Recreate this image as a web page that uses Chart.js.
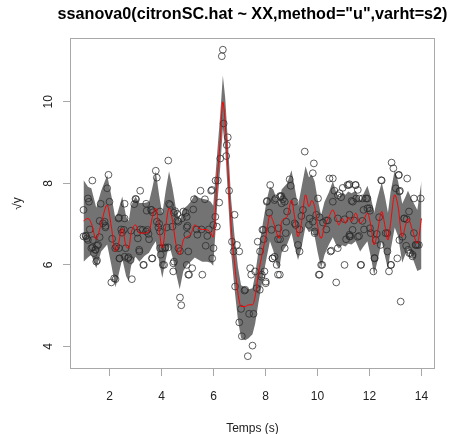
<!DOCTYPE html>
<html><head><meta charset="utf-8">
<script src="https://cdn.jsdelivr.net/npm/chart.js@4"></script>
<style>html,body{margin:0;padding:0;background:#fff;}canvas{display:block;}</style>
</head><body>
<canvas id="c" width="451" height="434"></canvas>
<script>
const titleText = 'ssanova0(citronSC.hat ~ XX,method="u",varht=s2)';
const xTitle = 'Temps (s)';
const yTitle = '√y';
const xTicks = [2, 4, 6, 8, 10, 12, 14];
const yTicks = [4, 6, 8, 10];

// fitted curve (red) and confidence band (grey)
const fitX = [1.00,1.17,1.30,1.49,1.68,1.91,2.07,2.23,2.32,2.49,2.64,2.74,2.83,3.00,3.15,3.34,3.52,3.65,3.78,3.91,4.03,4.16,4.29,4.42,4.55,4.70,4.84,4.99,5.12,5.28,5.44,5.57,5.76,5.89,5.99,6.13,6.26,6.36,6.45,6.55,6.68,6.81,6.94,7.06,7.22,7.35,7.50,7.60,7.73,7.88,8.05,8.17,8.30,8.43,8.53,8.62,8.83,9.00,9.12,9.25,9.38,9.54,9.67,9.78,9.89,10.01,10.14,10.27,10.44,10.59,10.72,10.82,10.95,11.08,11.18,11.31,11.47,11.64,11.77,11.92,12.05,12.18,12.30,12.47,12.60,12.71,12.81,12.97,13.10,13.26,13.39,13.48,13.65,13.84,14.00];
const fitY = [7.08,7.14,7.02,6.63,7.02,7.47,6.94,6.33,6.45,6.90,6.45,6.41,6.78,6.98,6.78,6.78,6.82,7.18,7.39,6.86,6.41,6.94,7.39,7.10,6.53,6.25,6.61,6.69,6.74,6.98,6.90,6.87,6.86,6.79,6.68,8.00,9.06,10.00,9.47,8.41,6.94,6.04,5.31,4.98,4.98,5.02,5.02,5.22,5.80,6.29,6.82,7.22,7.06,6.78,6.65,7.06,7.18,7.59,7.18,6.69,7.02,7.72,7.43,7.58,7.43,6.94,6.65,6.94,7.18,7.35,7.14,6.98,7.14,7.02,7.17,7.06,7.27,7.02,7.10,7.27,6.98,6.49,6.78,7.31,6.94,6.61,7.02,7.72,7.43,6.69,6.98,7.14,6.86,6.53,7.14];
const bandUpper = [8.08,7.92,7.88,7.40,7.82,8.20,7.70,7.12,7.30,7.68,7.18,7.08,7.45,7.68,7.52,7.52,7.55,7.90,8.30,7.70,7.25,7.82,8.30,7.90,7.40,7.05,7.38,7.45,7.55,7.72,7.65,7.62,7.60,7.55,7.45,8.65,9.70,10.65,10.10,9.05,7.60,6.70,5.95,5.50,5.45,5.40,5.43,5.75,6.35,6.95,7.60,7.92,7.85,7.62,7.50,7.85,8.00,8.32,7.92,7.45,7.88,8.42,8.15,8.22,8.05,7.60,7.22,7.55,7.78,8.05,7.78,7.62,7.78,7.72,7.80,7.76,7.82,7.58,7.74,7.94,7.66,7.28,7.62,8.02,7.66,7.28,7.78,8.32,8.05,7.50,7.68,7.82,7.58,7.35,8.06];
const bandLower = [6.08,6.18,6.25,5.92,6.33,6.50,6.00,5.45,5.68,6.15,5.72,5.60,5.98,6.20,6.08,6.22,6.30,6.45,6.58,6.08,5.68,6.12,6.50,6.20,5.82,5.40,5.85,6.00,6.08,6.18,6.12,6.08,6.08,6.05,5.98,7.35,8.40,9.35,8.85,7.75,6.30,5.40,4.65,4.20,4.15,4.20,4.30,4.55,5.08,5.62,6.20,6.58,6.35,6.00,5.90,6.30,6.50,6.78,6.45,6.12,6.40,6.95,6.80,6.85,6.70,6.30,5.92,6.25,6.50,6.68,6.48,6.40,6.48,6.45,6.52,6.50,6.58,6.33,6.45,6.58,6.20,5.75,6.08,6.58,6.20,5.90,6.35,6.92,6.70,6.05,6.28,6.42,6.18,5.85,5.90];

// observations (open circles)
const ptX = [1.34,1.96,1.17,1.21,1.00,1.91,2.00,1.66,3.18,3.00,2.58,3.41,2.36,1.62,1.81,1.85,1.24,1.08,1.00,1.17,1.56,1.30,1.47,1.49,1.40,2.10,2.26,2.39,2.36,2.62,2.71,2.81,3.15,3.09,3.28,3.41,3.32,2.23,2.07,2.86,2.55,1.62,
4.26,3.78,3.82,3.43,3.61,4.29,4.48,4.84,4.93,5.22,5.25,5.50,5.67,5.91,6.08,5.35,5.54,5.76,5.82,5.70,5.95,3.46,3.52,3.91,4.20,4.61,4.97,4.99,5.38,4.03,4.16,3.97,3.65,4.10,4.48,4.97,5.18,5.06,5.57,4.71,4.76,4.42,5.99,
6.36,6.32,6.39,6.55,6.51,6.49,6.26,6.17,5.94,6.22,6.60,6.81,6.07,6.13,6.71,6.90,6.77,6.99,6.00,6.83,7.22,7.41,7.60,7.45,7.66,7.86,7.96,7.79,7.70,7.92,8.05,8.18,8.14,8.39,8.56,8.62,8.50,8.56,8.27,8.43,8.01,7.19,7.06,7.37,7.54,6.99,7.09,7.50,7.32,
9.51,9.86,9.82,10.46,10.59,11.23,8.93,8.97,8.61,8.74,9.12,10.59,10.91,10.85,10.02,9.44,8.83,9.12,9.70,9.82,10.21,10.40,10.78,11.04,11.23,9.31,9.89,10.34,8.78,11.10,11.23,9.25,9.31,8.74,10.78,10.53,10.18,11.04,10.08,10.72,8.55,9.95,
12.85,12.92,13.13,13.45,12.47,11.15,11.47,13.01,13.17,11.60,11.73,11.92,11.31,13.71,13.97,11.92,12.02,13.52,11.77,13.33,13.43,11.41,11.73,12.37,11.35,11.79,12.02,12.05,11.26,11.60,12.28,12.62,12.69,13.71,13.77,13.90,13.84,12.43,12.24,12.69,13.49,13.58,13.07,12.20,12.82,11.66,12.15,12.75,13.20,13.65,
2.95,3.02,2.58,3.60,3.66,3.94,4.33,4.52,4.61,1.10,1.13,1.36,1.75,1.84,2.35,2.45,2.48,2.83,3.18,3.07,3.50,3.82,3.88,3.94,4.26,4.65,4.78,4.97,5.00,1.35,1.45,1.52,1.52,2.22,2.38,2.58,2.73,3.14,3.63,3.94,4.14,4.45,4.65,4.71,5.03,5.03,3.30,4.05,4.45,2.18,
8.06,8.35,8.57,8.67,10.97,11.20,11.46,11.55,10.78,10.65,11.49,11.87,12.00,11.36,12.45,13.12,13.15,7.93,7.88,8.23,8.48,8.80,9.16,9.38,9.67,9.89,10.08,10.34,8.35,8.27,8.48,8.01,7.84,7.78,10.05,10.14,10.50,11.23,11.55,11.68,12.19,12.83,13.15,13.41,13.53,13.66,13.79,13.27,13.34];
const ptY = [8.07,8.21,7.63,7.55,7.35,7.88,7.55,7.50,7.82,7.62,7.50,7.50,7.16,7.08,7.06,6.96,6.87,6.71,6.70,6.61,6.49,6.41,6.37,6.08,6.29,6.64,6.45,6.16,6.41,6.41,6.16,6.12,6.33,6.65,6.86,6.82,6.00,5.65,5.57,5.65,6.86,6.68,
8.56,8.31,8.14,7.33,7.35,7.50,7.28,7.31,7.28,7.36,7.61,7.82,7.61,7.82,8.07,6.87,6.87,6.71,6.87,6.47,6.16,6.86,6.63,7.01,6.92,7.09,6.92,6.74,6.74,6.41,6.43,6.25,6.16,6.00,6.08,6.00,5.92,5.76,5.76,5.20,5.01,6.94,6.98,
11.28,11.12,9.47,9.13,8.94,8.67,8.61,8.07,7.84,7.53,7.82,7.23,7.18,6.94,6.57,6.49,6.33,6.33,6.41,5.47,5.39,5.92,5.84,5.76,5.43,5.76,5.84,6.33,6.57,6.86,7.55,7.96,7.28,7.63,7.69,7.51,6.90,6.63,6.16,6.00,5.59,5.37,4.92,4.80,4.80,4.59,4.25,4.02,3.76,
8.78,8.49,8.25,8.12,8.12,7.98,8.10,7.94,7.69,7.55,7.55,7.55,7.66,7.76,7.63,7.35,7.31,7.02,7.14,7.06,7.04,7.09,7.14,7.12,7.23,6.87,6.82,6.87,6.78,6.63,6.70,6.49,6.33,6.41,6.41,6.35,6.00,6.00,5.76,5.57,5.76,7.23,
8.51,8.37,8.21,8.12,8.07,7.96,7.96,7.88,7.82,7.63,7.63,7.63,7.57,7.63,7.63,7.39,7.33,7.31,7.35,7.14,7.12,7.09,7.08,7.17,6.86,6.87,6.90,6.78,6.70,6.71,6.76,6.78,6.78,6.78,6.49,6.49,6.49,6.49,6.61,6.33,6.37,6.29,6.16,6.16,6.00,6.00,5.84,5.84,5.10,6.21,
7.49,7.61,7.14,7.35,7.29,7.31,7.47,7.32,7.25,6.71,6.65,6.61,7.02,6.92,7.14,6.87,6.79,6.84,6.87,6.79,6.76,7.06,6.92,6.82,6.43,7.06,7.14,7.18,6.96,6.43,6.37,6.47,6.11,6.41,6.16,6.20,6.19,6.37,6.16,6.41,6.41,6.04,6.41,6.34,6.33,5.76,6.00,6.00,5.84,5.67,
7.57,7.59,7.67,7.61,7.89,7.96,7.96,7.84,7.71,7.82,7.63,7.63,7.39,7.55,8.08,8.20,7.80,6.63,6.86,6.86,6.63,7.06,6.98,7.20,6.98,6.78,7.17,7.09,6.20,6.16,5.76,5.55,5.71,5.39,5.76,6.00,6.33,6.74,6.69,6.00,6.17,6.00,6.61,6.47,6.29,6.25,6.49,6.69,7.14];

const toXY = (xs, ys) => xs.map((x, i) => ({ x: x, y: ys[i] }));
const FONT = '"Liberation Sans", Arial, Helvetica, sans-serif';
const AXIS_GRAY = '#a8a8a8';

const boxPlugin = {
  id: 'box',
  beforeDatasetsDraw(chart) {
    const { ctx, chartArea: a } = chart;
    ctx.save();
    ctx.strokeStyle = AXIS_GRAY;
    ctx.lineWidth = 1;
    ctx.strokeRect(Math.round(a.left) + 0.5, Math.round(a.top) + 0.5,
                   Math.round(a.right - a.left) - 1, Math.round(a.bottom - a.top) - 1);
    ctx.restore();
  },
  afterDraw(chart) {
    // main title centred over the plotting region (as R does)
    const { ctx, chartArea: a } = chart;
    ctx.save();
    ctx.fillStyle = '#000';
    ctx.font = 'bold 16.2px ' + FONT;
    ctx.textAlign = 'center';
    ctx.textBaseline = 'middle';
    ctx.fillText(titleText, (a.left + a.right) / 2, 15);
    ctx.restore();
  }
};

new Chart(document.getElementById('c'), {
  type: 'line',
  data: {
    datasets: [
      { label: 'lower', data: toXY(fitX, bandLower), borderWidth: 0, borderColor: 'rgba(0,0,0,0)',
        pointRadius: 0, fill: false, order: 4 },
      { label: 'upper', data: toXY(fitX, bandUpper), borderWidth: 0, borderColor: 'rgba(0,0,0,0)',
        pointRadius: 0, fill: '-1', backgroundColor: '#737373', order: 3 },
      { label: 'obs', type: 'scatter', data: toXY(ptX, ptY), showLine: false, pointStyle: 'circle',
        pointRadius: 3.4, borderWidth: 0.75, borderColor: '#2a2a2a', backgroundColor: 'rgba(0,0,0,0)',
        pointBorderColor: '#2a2a2a', pointBackgroundColor: 'rgba(0,0,0,0)', pointBorderWidth: 0.75, order: 2 },
      { label: 'fit', data: toXY(fitX, fitY), borderColor: '#ff0000', borderWidth: 1,
        cubicInterpolationMode: 'monotone', pointRadius: 0, fill: false, order: 1 }
    ]
  },
  options: {
    responsive: false,
    animation: false,
    devicePixelRatio: 1,
    layout: { padding: { top: 38, right: 16, bottom: 0, left: 0 } },
    plugins: {
      legend: { display: false },
      tooltip: { enabled: false },
      title: { display: false }
    },
    scales: {
      x: {
        type: 'linear', min: 0.48, max: 14.52,
        afterBuildTicks: s => { s.ticks = xTicks.map(v => ({ value: v })); },
        afterFit: s => { s.height = 65; },
        grid: { drawOnChartArea: false, drawTicks: true, tickLength: 7, color: AXIS_GRAY },
        border: { display: false },
        ticks: { color: '#222', font: { family: FONT, size: 12 }, padding: 13, maxRotation: 0, autoSkip: false },
        title: { display: true, text: xTitle, color: '#222', font: { family: FONT, size: 12 }, padding: { top: 0, bottom: -2 } }
      },
      y: {
        type: 'linear', min: 3.446, max: 11.567,
        afterBuildTicks: s => { s.ticks = yTicks.map(v => ({ value: v })); },
        afterFit: s => { s.width = 70; },
        grid: { drawOnChartArea: false, drawTicks: true, tickLength: 7, color: AXIS_GRAY },
        border: { display: false },
        ticks: { color: '#222', font: { family: FONT, size: 12 }, padding: 8, minRotation: 90, maxRotation: 90,
                 crossAlign: 'center', autoSkip: false },
        title: { display: true, text: yTitle, color: '#222', font: { family: FONT, size: 12 }, padding: { top: 10, bottom: 0 } }
      }
    }
  },
  plugins: [boxPlugin]
});
</script>
</body></html>
